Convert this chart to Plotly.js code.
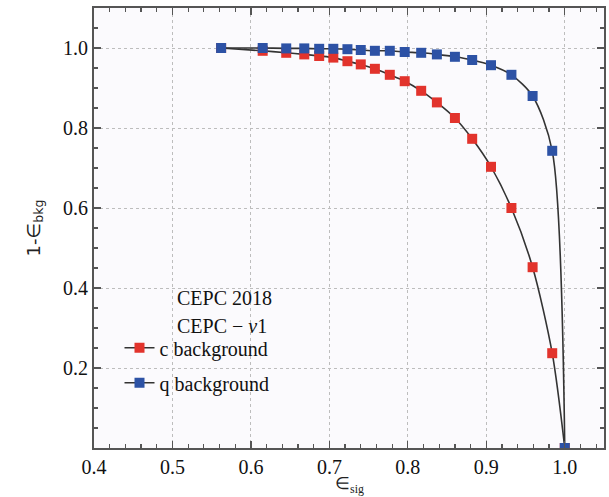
<!DOCTYPE html>
<html>
<head>
<meta charset="utf-8">
<script src="https://cdn.plot.ly/plotly-3.0.1.min.js"></script>
<style>html,body{margin:0;padding:0;background:#fff;}#chart{width:609px;height:497px;}</style>
</head>
<body>
<div id="chart"></div>
<script>
// signal efficiency (shared by both curves)
const effSig = [0.562, 0.615, 0.645, 0.668, 0.687, 0.705, 0.723, 0.740, 0.758, 0.777, 0.796, 0.817, 0.837, 0.860, 0.882, 0.906, 0.932, 0.959, 0.984, 1.0];
// 1 - background efficiency
const cBackground = [1.0, 0.993, 0.988, 0.984, 0.980, 0.976, 0.967, 0.959, 0.948, 0.933, 0.917, 0.893, 0.864, 0.825, 0.773, 0.703, 0.600, 0.452, 0.237, 0.0];
const qBackground = [1.0, 1.0, 0.999, 0.999, 0.998, 0.998, 0.997, 0.995, 0.993, 0.993, 0.990, 0.988, 0.984, 0.978, 0.970, 0.957, 0.933, 0.880, 0.743, 0.0];
const seriesNames = ["c background", "q background"];
const xTicks = [0.4, 0.5, 0.6, 0.7, 0.8, 0.9, 1.0];
const xTickText = ["0.4", "0.5", "0.6", "0.7", "0.8", "0.9", "1.0"];
const yTicks = [0.2, 0.4, 0.6, 0.8, 1.0];
const yTickText = ["0.2", "0.4", "0.6", "0.8", "1.0"];

const serif = "Liberation Serif, Times New Roman, serif";
const lineStyle = {color: "#333333", width: 1.6, shape: "spline", smoothing: 0.8};

const traces = [
  {x: effSig, y: cBackground, name: seriesNames[0], legendgroup: "c", mode: "lines+markers",
   line: lineStyle, marker: {symbol: "square", size: 10, color: "#e2332c"}},
  {x: effSig, y: qBackground, name: seriesNames[1], legendgroup: "q", mode: "lines+markers",
   line: lineStyle, marker: {symbol: "square", size: 10, color: "#2d52a5"}}
];

const axisCommon = {
  showline: true, linecolor: "#555", linewidth: 2, mirror: "allticks",
  ticks: "inside", ticklen: 7, tickwidth: 1.2, tickcolor: "#555",
  showgrid: true, gridcolor: "#bdbdbd", griddash: "dot", gridwidth: 1,
  zeroline: false, tickfont: {family: serif, size: 20, color: "#111"}
};

const layout = {
  width: 609, height: 497,
  margin: {l: 94, r: 5, t: 8, b: 49},
  paper_bgcolor: "#ffffff", plot_bgcolor: "#fbfafd",
  showlegend: true,
  legend: {x: 0.05, xanchor: "left", y: 0.272, yanchor: "top", bgcolor: "rgba(0,0,0,0)",
    font: {family: serif, size: 20, color: "#111"}, traceorder: "grouped", tracegroupgap: 6,
    itemwidth: 30},
  xaxis: Object.assign({}, axisCommon, {
    range: [0.4, 1.05], tickmode: "array", tickvals: xTicks, ticktext: xTickText,
    ticklabelstandoff: 0,
    minor: {dtick: 0.02, tick0: 0.4, ticks: "inside", ticklen: 4, tickcolor: "#555", showgrid: false}
  }),
  yaxis: Object.assign({}, axisCommon, {
    range: [0, 1.1], tickmode: "array", tickvals: yTicks, ticktext: yTickText,
    minor: {dtick: 0.05, tick0: 0, ticks: "inside", ticklen: 4, tickcolor: "#555", showgrid: false},
    title: {text: "1-∈<sub>bkg</sub>", font: {family: "DejaVu Sans, sans-serif", size: 18, color: "#222"}, standoff: 18}
  }),
  annotations: [
    {xref: "paper", yref: "paper", x: 0.5, y: -0.083, xanchor: "center", yanchor: "middle", showarrow: false,
     text: "∈<sub>sig</sub>", font: {family: serif, size: 17, color: "#222"}},
    {xref: "paper", yref: "paper", x: 0.159, y: 0.341, xanchor: "left", yanchor: "middle", showarrow: false,
     text: "CEPC 2018", font: {family: serif, size: 20, color: "#111"}},
    {xref: "paper", yref: "paper", x: 0.159, y: 0.277, xanchor: "left", yanchor: "middle", showarrow: false,
     text: "CEPC − <i>v</i>1", font: {family: serif, size: 20, color: "#111"}}
  ]
};

Plotly.newPlot("chart", traces, layout, {displayModeBar: false, staticPlot: true});
</script>
</body>
</html>
